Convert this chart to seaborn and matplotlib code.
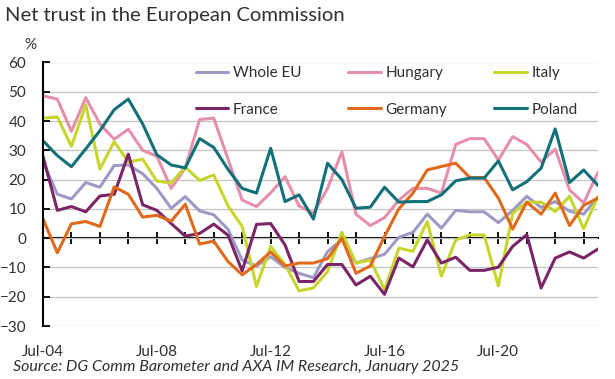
import matplotlib
matplotlib.use("Agg")
import matplotlib.pyplot as plt
import matplotlib.dates as mdates
from matplotlib.lines import Line2D
import seaborn as sns
import pandas as pd

# half-yearly survey waves, Jul-04 onwards
dates = pd.date_range("2004-07-01", periods=40, freq="6MS")

whole_eu = [26, 15, 13.4, 19, 17.4, 24.8, 25, 22, 17, 10.2, 14.2, 9.3, 8, 3,
            -7.5, -9.5, -6.3, -10, -12, -13.5, -4.6, -0.5, -8.5, -7, -5.5, 0.3, 2, 8.2,
            3.4, 9.5, 9, 9, 5.3, 9.5, 14.3, 10.5, 12.5, 9.2, 8.2, 14.1]
hungary = [48.6, 47.5, 36.5, 48, 39, 33.8, 37.2, 30, 28, 17, 24, 40.5, 41, 27,
           13, 10.8, 15.5, 21, 11, 8.5, 17, 29.5, 8.2, 4.3, 7, 13, 17, 17,
           15.4, 32, 34, 34, 26.7, 34.7, 32, 26, 30.4, 16.5, 12, 22.5]
italy = [41, 41.4, 31.4, 45.5, 23.6, 33, 26, 27, 19.5, 18.8, 24.3, 19.7, 21.6, 11,
         4, -16.5, -2.8, -9, -18, -17, -11.4, 2, -8.5, -7.5, -17.6, -3.4, -4.5, 5.7,
         -13, -0.6, 1.1, 1.1, -16.3, 8.5, 12.3, 12.3, 9.1, 14.3, 3.2, 14.3]
france = [28, 9.5, 10.8, 9, 14.4, 15, 28.7, 11.4, 9.5, 5, 0.7, 1.6, 4.8, 1,
          -11.2, 4.7, 5, -2.3, -14.8, -14.8, -9, -9, -16, -13, -19.2, -6.8, -9.8, -0.6,
          -8.5, -6.5, -11, -11, -9.9, -2.8, 1.2, -17, -6.8, -4.7, -6.8, -3.7]
germany = [6.6, -5, 4.9, 5.7, 4, 17.5, 15, 7.2, 7.8, 5.8, 11.6, -2, -1, -8,
           -12.5, -9, -4.7, -9.5, -8.5, -8.5, -7, 0, -12, -9.5, 0.6, 10, 15.4, 23.3,
           24.5, 25.6, 20.7, 20.7, 13.7, 3.1, 12.3, 8.2, 15.4, 4.3, 11.2, 13.7]
poland = [33.3, 28.2, 24.4, 30.5, 36.7, 43.9, 47.5, 39, 28.5, 25, 24, 34, 31, 23.5,
          17, 15.4, 30.7, 12.5, 14.8, 6.5, 25.6, 20, 10.2, 10.6, 17.4, 12.3, 12.5, 12.5,
          14.8, 19.6, 20.5, 20.5, 26.4, 16.5, 19.3, 23.9, 37.3, 19, 23.3, 18]

series_names = ["Whole EU", "Hungary", "Italy", "France", "Germany", "Poland"]
colors = {"Whole EU": "#9e9ac6", "Hungary": "#e68fab", "Italy": "#c6d62c",
          "France": "#7a2566", "Germany": "#e06a1c", "Poland": "#137078"}

wide = pd.DataFrame({"Whole EU": whole_eu, "Hungary": hungary, "Italy": italy,
                     "France": france, "Germany": germany, "Poland": poland}, index=dates)
wide.index.name = "date"
data = wide.reset_index().melt(id_vars="date", var_name="series", value_name="value")

sns.set_theme(style="white")
plt.rcParams['font.family'] = ['Lato', 'DejaVu Sans']
txt = "#303030"

fig = plt.figure(figsize=(6.15, 3.79), dpi=100)
ax = fig.add_axes([43/615, 1 - 326/379, 555/615, (326 - 62.5)/379])

sns.lineplot(data=data, x="date", y="value", hue="series", hue_order=series_names,
             palette=colors, linewidth=2.2, legend=False, errorbar=None, ax=ax)

ax.set_ylim(-30, 60)
ax.set_yticks(range(-30, 61, 10))
ax.set_xlim(dates[0], dates[-1])
ax.yaxis.grid(True, color="#c4c4c4", linewidth=0.9)
ax.set_axisbelow(True)
for s in ["top", "right", "bottom"]:
    ax.spines[s].set_visible(False)
ax.spines["left"].set_color("black")
ax.spines["left"].set_linewidth(1.5)
ax.tick_params(axis="y", direction="in", length=5, width=1.3, color="black",
               pad=12, labelsize=11, labelcolor=txt, left=True)
ax.xaxis.set_major_locator(mdates.YearLocator(4, month=7))
ax.xaxis.set_major_formatter(mdates.DateFormatter("%b-%y"))
ax.tick_params(axis="x", length=0, pad=14, labelsize=11, labelcolor=txt)
ax.set_xlabel("")
ax.set_ylabel("")

# zero line with yearly tick marks
zero = ax.secondary_xaxis(0, transform=ax.transData)
zero.xaxis.set_major_locator(mdates.YearLocator(1, month=7))
zero.tick_params(direction="inout", length=8, width=1.3, color="black", labelbottom=False, labeltop=False)
for s in zero.spines.values():
    s.set_color("black")
    s.set_linewidth(1.5)

handles = [Line2D([], [], color=colors[n], linewidth=2.2) for n in series_names]
order = [0, 3, 1, 4, 2, 5]
ax.legend([handles[i] for i in order], [series_names[i] for i in order], ncol=3,
          frameon=False, loc="upper left", bbox_to_anchor=(0.275, 0.985),
          handlelength=2.15, handletextpad=0.3, columnspacing=3.05, labelspacing=1.45,
          fontsize=11, borderaxespad=0, borderpad=0, labelcolor=txt)

fig.text(5/615, 1 - 16/379, "Net trust in the European Commission", fontsize=14.6,
         color=txt, va="center", ha="left")
fig.text(30/615, 1 - 45/379, "%", fontsize=11, color=txt, va="center", ha="center")
fig.text(13/615, 1 - 367/379, "Source: DG Comm Barometer and AXA IM Research, January 2025",
         fontsize=11.5, style="italic", color=txt, va="center", ha="left")

fig.savefig("out.png", dpi=100)
